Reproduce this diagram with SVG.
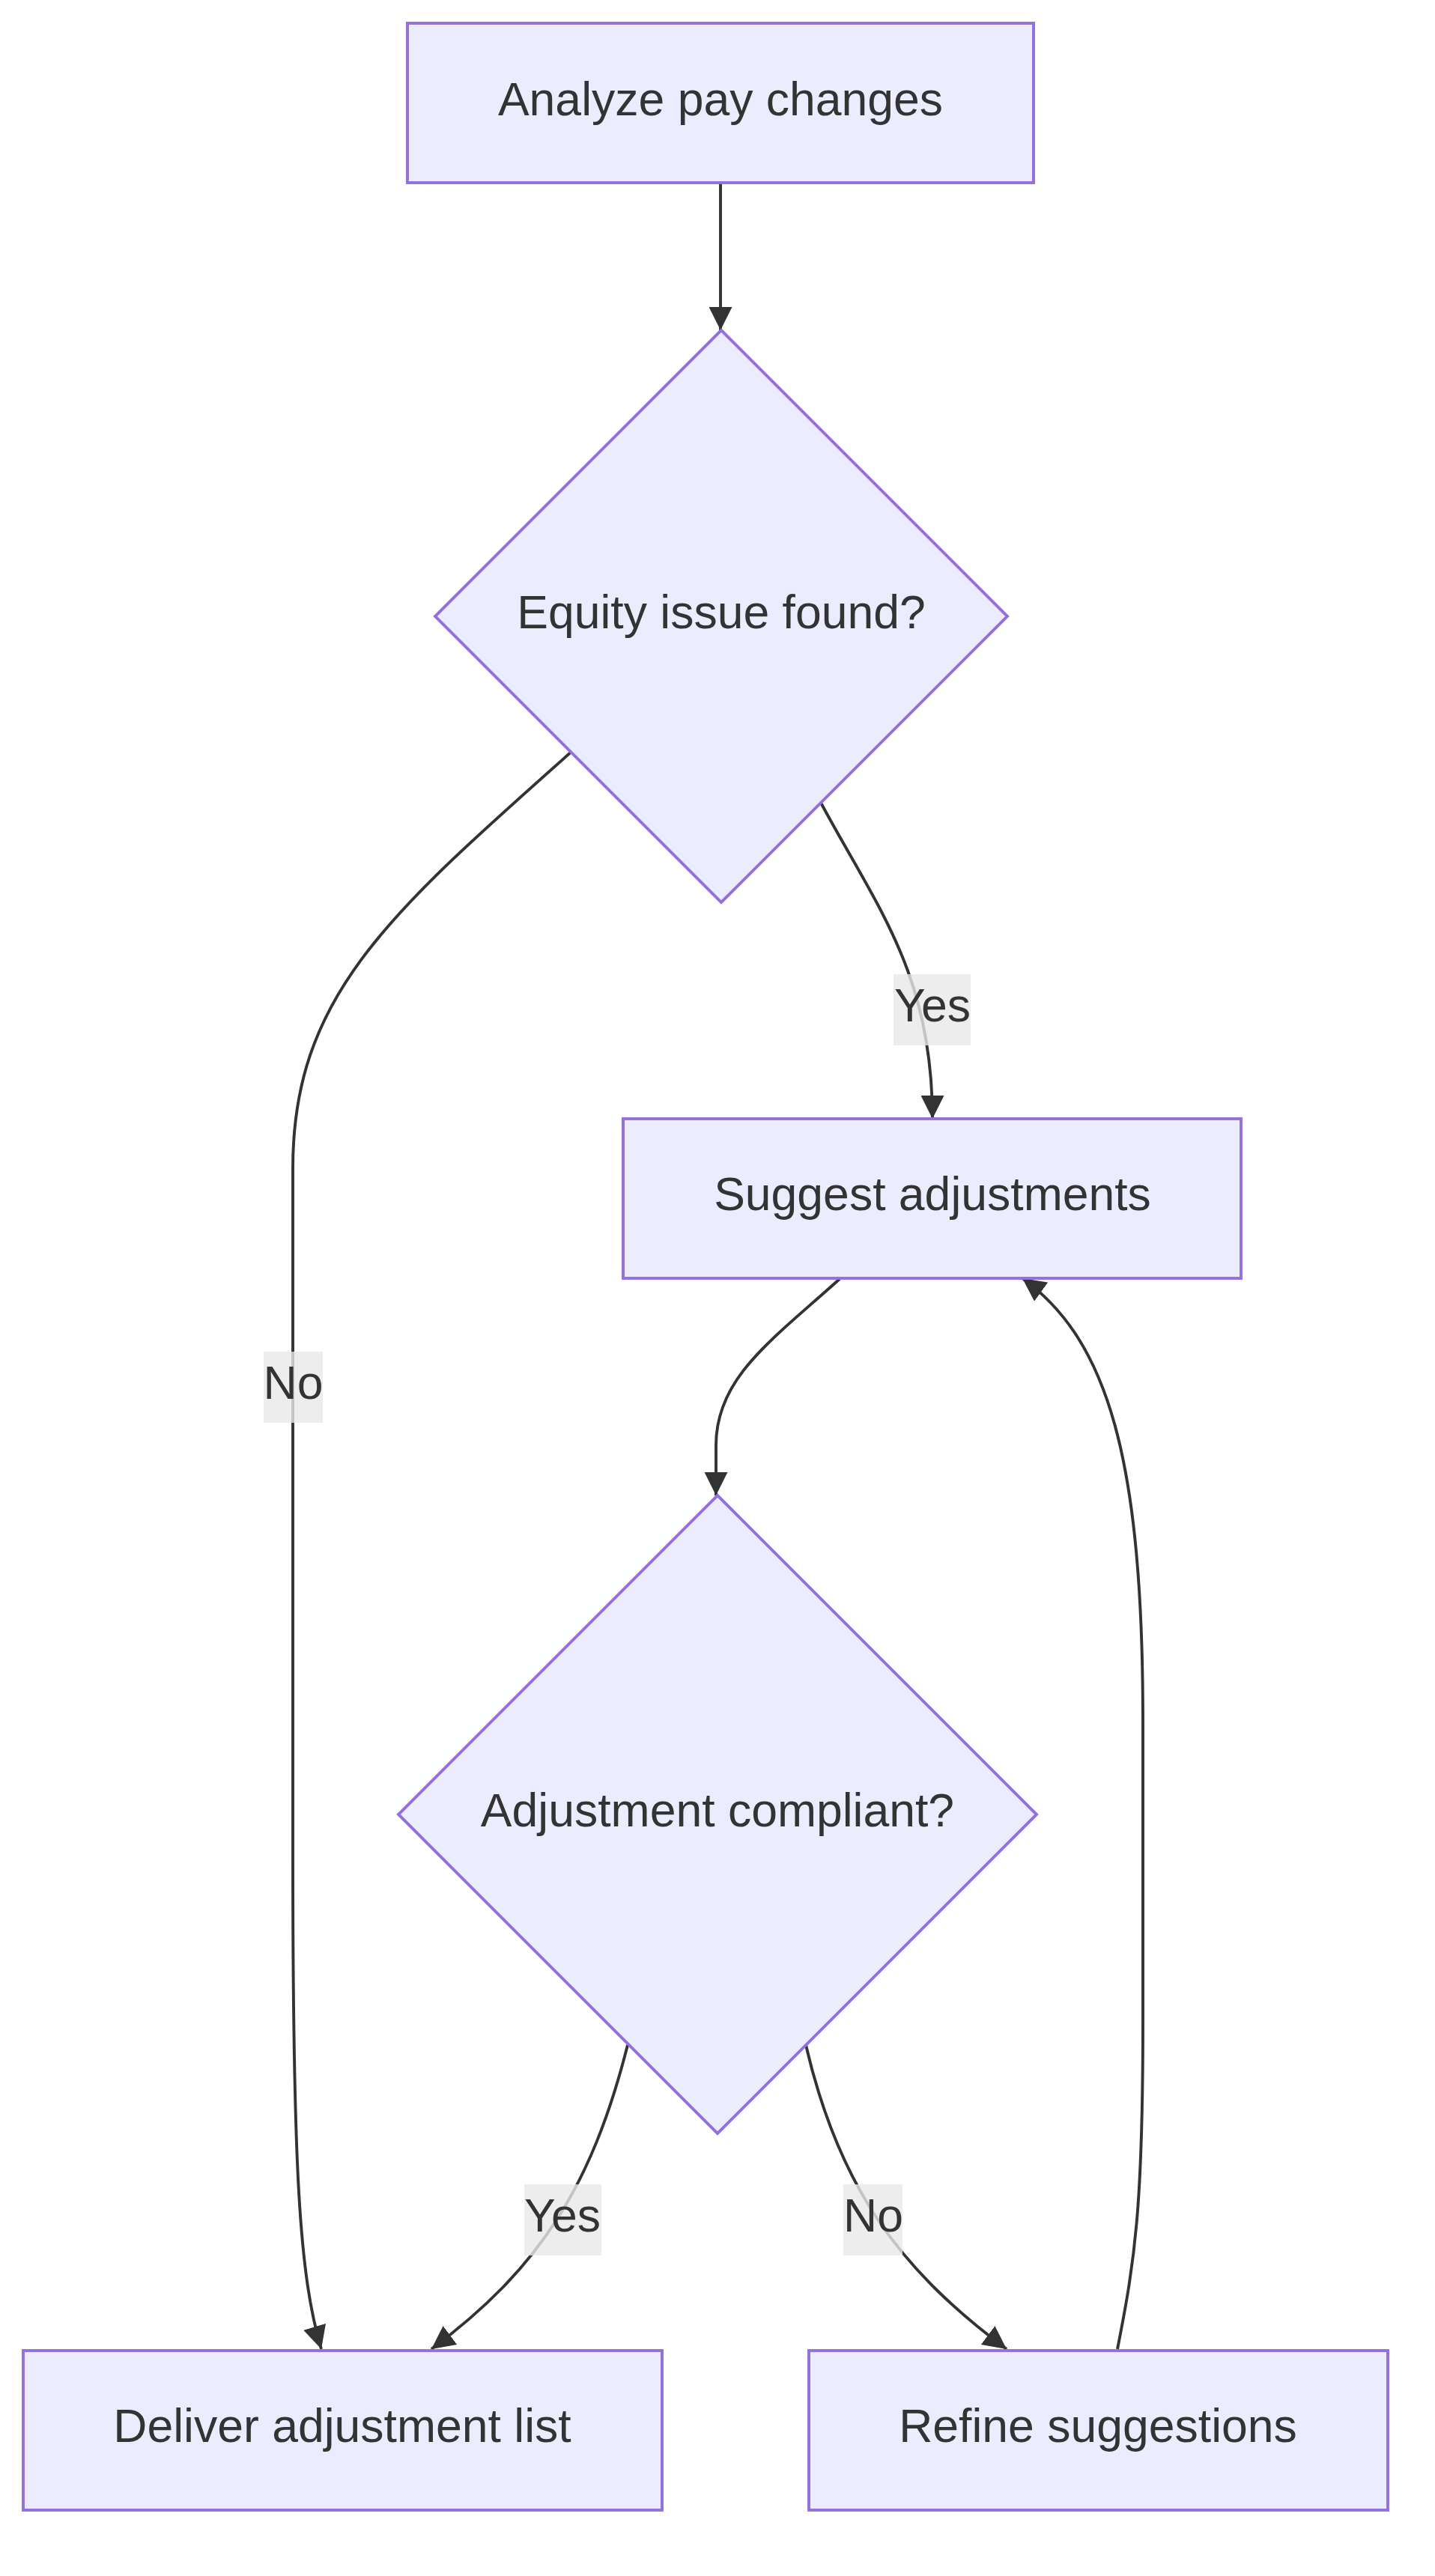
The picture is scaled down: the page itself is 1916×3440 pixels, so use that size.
<svg xmlns="http://www.w3.org/2000/svg" width="1916" height="3440" viewBox="0 0 1916 3440">
<defs>
<style>
.node rect,.node polygon{fill:#ECECFF;stroke:#9370DB;stroke-width:3.9}
.node text,.lbl text{font-family:"Liberation Sans",Arial,sans-serif;font-size:62.5px;fill:#333333;text-anchor:middle}
.edge{fill:none;stroke:#333333;stroke-width:3.9;marker-end:url(#arrow)}
.lbl rect{fill:#e8e8e8;fill-opacity:0.8}
</style>
<marker id="arrow" viewBox="0 0 10 10" refX="10" refY="5" markerWidth="31" markerHeight="31" markerUnits="userSpaceOnUse" orient="auto">
<path d="M0,0 L10,5 L0,10 z" fill="#333333"/>
</marker>
</defs>
<rect width="1916" height="3440" fill="#ffffff"/>
<g id="connectors">
<path class="edge" d="M962,244 L962,441"/>
<path class="edge" d="M1096,1072 C1170,1210 1245,1300 1245,1494"/>
<path class="edge" d="M764,1003 C520,1220 391,1330 391,1560 L391,2480 C391,2900 400,3040 429,3137"/>
<path class="edge" d="M1121,1708 C1030,1790 956,1840 956,1930 L956,1997"/>
<path class="edge" d="M838,2731 C790,2920 720,3030 576,3137"/>
<path class="edge" d="M1076,2731 C1120,2920 1200,3030 1344,3137"/>
<path class="edge" d="M1492,3137 C1515,3020 1526,2950 1526,2700 L1526,2300 C1526,1950 1480,1790 1365,1707"/>
</g>
<g id="edge-labels">
<g class="lbl" id="label-yes-1"><rect x="1193" y="1301" width="103" height="95"/><text x="1245" y="1364">Yes</text></g>
<g class="lbl" id="label-no-1"><rect x="352" y="1805" width="79" height="95"/><text x="391.5" y="1868">No</text></g>
<g class="lbl" id="label-yes-2"><rect x="700" y="2917" width="103" height="95"/><text x="751" y="2980">Yes</text></g>
<g class="lbl" id="label-no-2"><rect x="1126" y="2917" width="79" height="95"/><text x="1166" y="2980">No</text></g>
</g>
<g class="node" id="node-analyze"><rect x="544" y="31" width="836" height="213"/><text x="962" y="154">Analyze pay changes</text></g>
<g class="node" id="node-equity"><polygon points="963,441 1345,823 963,1205 581,823"/><text x="963" y="839">Equity issue found?</text></g>
<g class="node" id="node-suggest"><rect x="832" y="1494" width="825" height="213"/><text x="1245" y="1616">Suggest adjustments</text></g>
<g class="node" id="node-compliant"><polygon points="958,1997 1384,2423 958,2849 532,2423"/><text x="958" y="2439">Adjustment compliant?</text></g>
<g class="node" id="node-deliver"><rect x="31" y="3139" width="853" height="213"/><text x="457" y="3261">Deliver adjustment list</text></g>
<g class="node" id="node-refine"><rect x="1080" y="3139" width="773" height="213"/><text x="1466" y="3261">Refine suggestions</text></g>
</svg>
